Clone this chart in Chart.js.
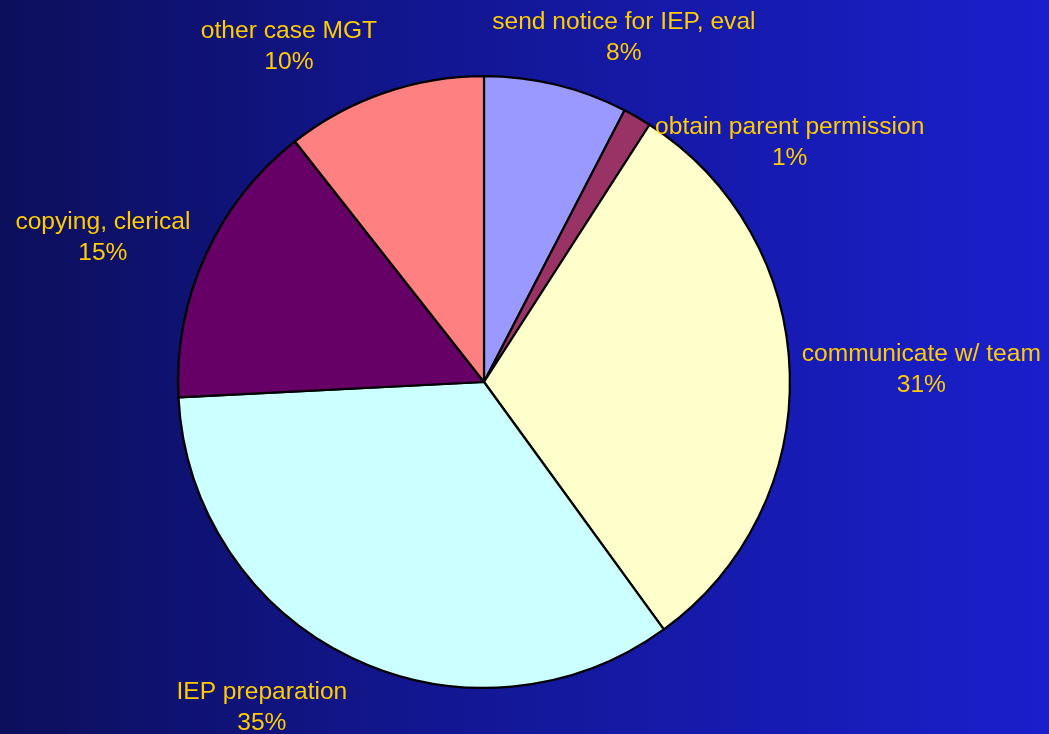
<!DOCTYPE html>
<html>
<head>
<meta charset="utf-8">
<script src="https://cdn.jsdelivr.net/npm/chart.js@4"></script>
<style>
  html, body { margin: 0; padding: 0; width: 1049px; height: 734px; overflow: hidden; }
  body { background: linear-gradient(to right, #0c0f5a 0%, #121690 40%, #1a1fcc 100%); }
  #wrap { width: 1049px; height: 734px; position: relative; }
</style>
</head>
<body>
<div id="wrap"><canvas id="c"></canvas></div>
<script>
const categories = ["send notice for IEP, eval", "obtain parent permission", "communicate w/ team", "IEP preparation", "copying, clerical", "other case MGT"];
const values = [7.6, 1.5, 30.9, 34.2, 15.2, 10.6];
const percentLabels = ["8%", "1%", "31%", "35%", "15%", "10%"];
const sliceColors = ["#9999FF", "#993366", "#FFFFCC", "#CCFFFF", "#660066", "#FF8080"];

// per-label nudges applied after the generic outside-end placement
const labelNudge = [[34, -7], [80, 61], [2, -2], [-49, 13], [-14, -1], [-63, -7]];

const outsideLabels = {
  id: 'outsideLabels',
  afterDatasetsDraw(chart) {
    const ctx = chart.ctx;
    const meta = chart.getDatasetMeta(0);
    ctx.save();
    ctx.font = '24.6px "Liberation Sans", Arial, sans-serif';
    ctx.fillStyle = '#FFCC00';
    ctx.textAlign = 'center';
    ctx.textBaseline = 'middle';
    const lineH = 31;
    meta.data.forEach((arc, i) => {
      const p = arc.getProps(['x', 'y', 'startAngle', 'endAngle', 'outerRadius'], true);
      const mid = (p.startAngle + p.endAngle) / 2;
      const r = p.outerRadius + 10;
      const ax = p.x + Math.cos(mid) * r;
      const ay = p.y + Math.sin(mid) * r;
      const lines = [categories[i], percentLabels[i]];
      const w = Math.max(...lines.map(t => ctx.measureText(t).width));
      const h = lineH * lines.length;
      const cx = ax + Math.cos(mid) * w / 2 + labelNudge[i][0];
      const cy = ay + Math.sin(mid) * h / 2 + labelNudge[i][1];
      lines.forEach((t, k) => {
        ctx.fillText(t, cx, cy - h / 2 + lineH * (k + 0.5));
      });
    });
    ctx.restore();
  }
};

new Chart(document.getElementById('c'), {
  type: 'pie',
  data: {
    labels: categories,
    datasets: [{
      data: values,
      backgroundColor: sliceColors,
      borderColor: '#000000',
      borderWidth: 2.2,
      borderAlign: 'center'
    }]
  },
  options: {
    responsive: true,
    maintainAspectRatio: false,
    animation: false,
    layout: { padding: { top: 75, bottom: 45, left: 100, right: 181 } },
    plugins: {
      legend: { display: false },
      tooltip: { enabled: false }
    }
  },
  plugins: [outsideLabels]
});
</script>
</body>
</html>
